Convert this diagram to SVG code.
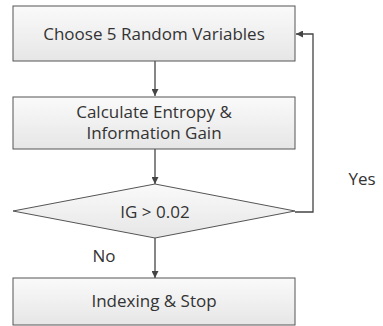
<svg xmlns="http://www.w3.org/2000/svg" width="383" height="326" viewBox="0 0 383 326">
<style>
.box{fill:url(#g);stroke:#555;stroke-width:1}
.t{font-family:"Open Sans","Noto Sans",sans-serif;font-size:17px;fill:#333;text-anchor:middle}
.c{fill:none;stroke:#444;stroke-width:1.3}
</style>
<defs>
<linearGradient id="g" x1="0" y1="0" x2="0" y2="1"><stop offset="0" stop-color="#fafafa"/><stop offset="1" stop-color="#e6e6e6"/></linearGradient>
<marker id="a" viewBox="0 0 10 10" refX="10" refY="5" markerWidth="7" markerHeight="7" orient="auto" markerUnits="userSpaceOnUse"><path d="M0,0L10,5L0,10z" fill="#444"/></marker>
</defs>
<rect width="383" height="326" fill="#fff"/>
<g id="connectors">
<path class="c" d="M155,61V96" marker-end="url(#a)"/>
<path class="c" d="M155,149V184" marker-end="url(#a)"/>
<path class="c" d="M155,238V278" marker-end="url(#a)"/>
<path class="c" d="M295,212H313V34H296" marker-end="url(#a)"/>
</g>
<g id="n1"><rect class="box" x="13" y="6" width="282" height="55"/><text class="t" x="154" y="40">Choose 5 Random Variables</text></g>
<g id="n2"><rect class="box" x="13" y="97" width="282" height="52"/><text class="t" x="154" y="118">Calculate Entropy &amp;</text><text class="t" x="154" y="139">Information Gain</text></g>
<g id="n3"><polygon class="box" points="155,184 295,211 155,238 13,211"/><text class="t" x="155" y="218">IG &gt; 0.02</text></g>
<g id="n4"><rect class="box" x="13" y="278" width="282" height="47"/><text class="t" x="154" y="307">Indexing &amp; Stop</text></g>
<text class="t" x="362" y="185">Yes</text>
<text class="t" x="104" y="262">No</text>
</svg>
